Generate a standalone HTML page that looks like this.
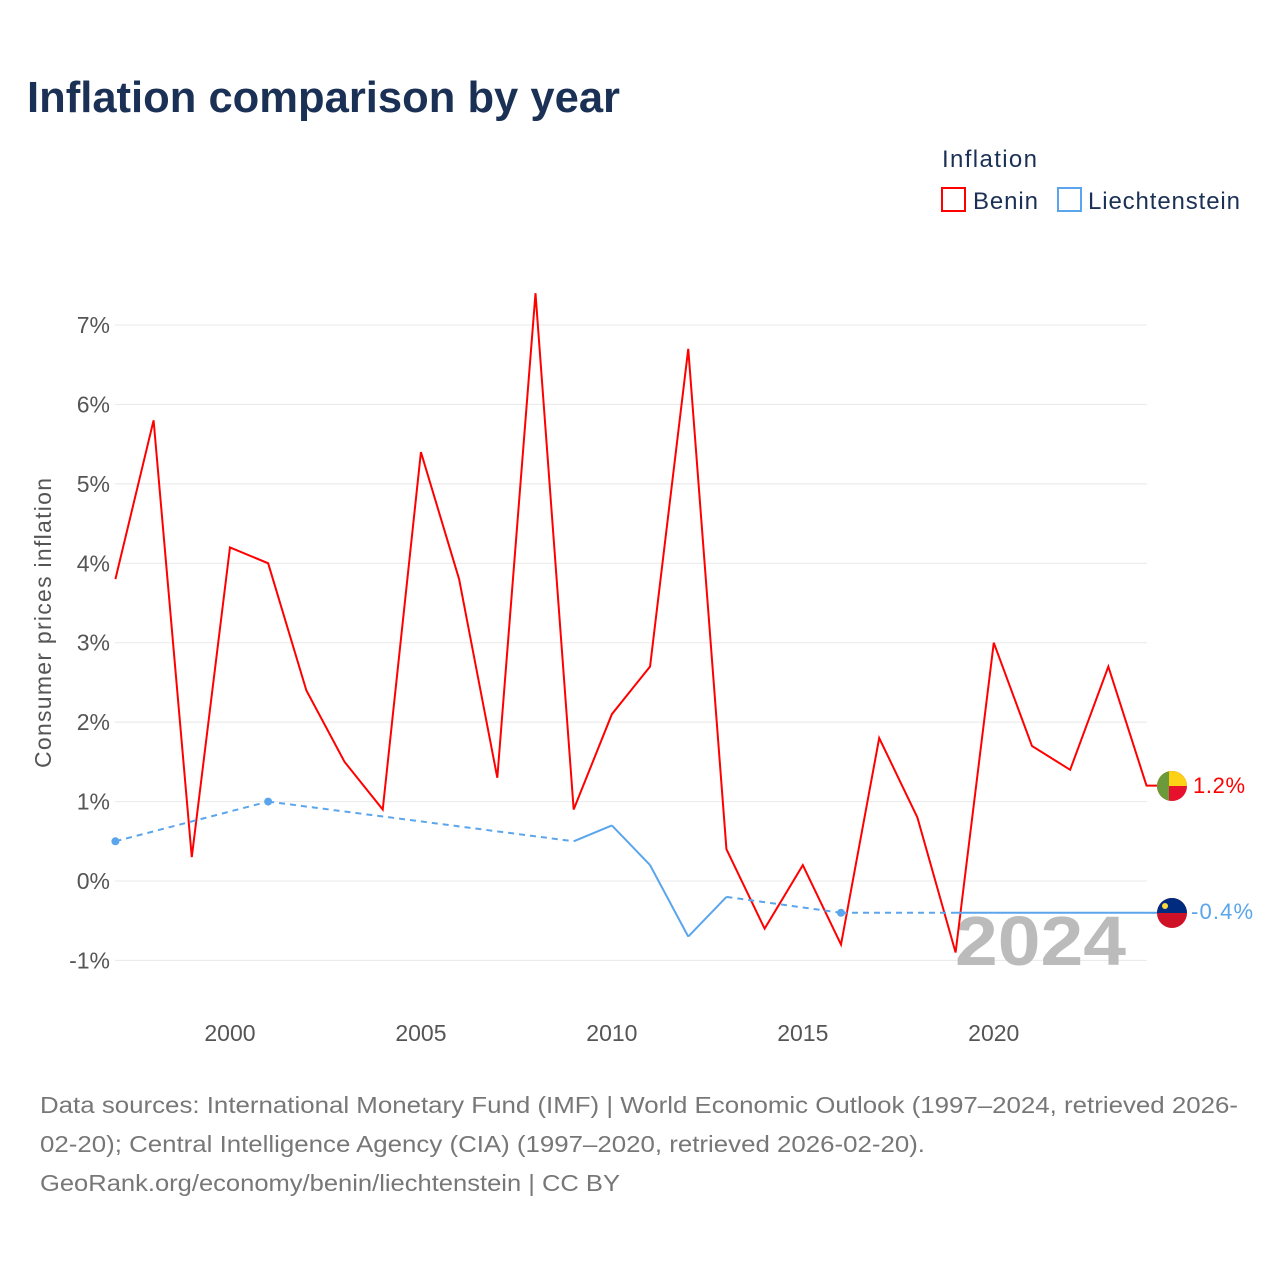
<!DOCTYPE html>
<html><head><meta charset="utf-8"><style>
body{margin:0;background:#fff;font-family:"Liberation Sans",sans-serif}
</style></head><body>
<svg width="1280" height="1280" viewBox="0 0 1280 1280" xmlns="http://www.w3.org/2000/svg">
<text x="27" y="112" font-size="44" font-weight="bold" fill="#1b3055" textLength="593" lengthAdjust="spacingAndGlyphs">Inflation comparison by year</text>
<text x="942" y="167" font-size="24" fill="#1b3055" textLength="95">Inflation</text>
<g><rect x="942" y="188" width="23" height="23" fill="none" stroke="#f00" stroke-width="2"/><text x="973" y="209" font-size="24" fill="#1b3055" textLength="65">Benin</text></g>
<g><rect x="1058" y="188" width="23" height="23" fill="none" stroke="#5aa5ec" stroke-width="2"/><text x="1088" y="209" font-size="24" fill="#1b3055" textLength="152">Liechtenstein</text></g>
<g id="grid"></g><g id="yt"></g><g id="xt"></g>
<text transform="translate(51,623) rotate(-90)" text-anchor="middle" font-size="23" fill="#555" textLength="290">Consumer prices inflation</text>
<text x="955" y="965" font-size="70" font-weight="bold" fill="#bbb" textLength="171" lengthAdjust="spacingAndGlyphs">2024</text>
<g id="series"></g>
<g><clipPath id="c1"><circle cx="1172" cy="786" r="15"/></clipPath><g clip-path="url(#c1)"><rect x="1157" y="771" width="30" height="30" fill="#e8112d"/><rect x="1157" y="771" width="30" height="15" fill="#fcd116"/><rect x="1157" y="771" width="12" height="30" fill="#6a9a3a"/></g></g>
<text x="1193" y="793" font-size="22" fill="#f00" textLength="52">1.2%</text>
<g><clipPath id="c2"><circle cx="1172" cy="913" r="15"/></clipPath><g clip-path="url(#c2)"><rect x="1157" y="898" width="30" height="30" fill="#ce1126"/><rect x="1157" y="898" width="30" height="15" fill="#002b7f"/><circle cx="1165" cy="906" r="3" fill="#ffd83d"/></g></g>
<text x="1191" y="919" font-size="22" fill="#5aa5ec" textLength="62">-0.4%</text>
<g font-size="23" fill="#777">
<text x="40" y="1113" textLength="1198" lengthAdjust="spacingAndGlyphs">Data sources: International Monetary Fund (IMF) | World Economic Outlook (1997–2024, retrieved 2026-</text>
<text x="40" y="1152" textLength="885" lengthAdjust="spacingAndGlyphs">02-20); Central Intelligence Agency (CIA) (1997–2020, retrieved 2026-02-20).</text>
<text x="40" y="1191" textLength="580" lengthAdjust="spacingAndGlyphs">GeoRank.org/economy/benin/liechtenstein | CC BY</text>
</g>
</svg>
<script>
const years=[1997,1998,1999,2000,2001,2002,2003,2004,2005,2006,2007,2008,2009,2010,2011,2012,2013,2014,2015,2016,2017,2018,2019,2020,2021,2022,2023,2024];
const benin=[3.8,5.8,0.3,4.2,4.0,2.4,1.5,0.9,5.4,3.8,1.3,7.4,0.9,2.1,2.7,6.7,0.4,-0.6,0.2,-0.8,1.8,0.8,-0.9,3.0,1.7,1.4,2.7,1.2];
const liech=[0.5,null,null,null,1.0,null,null,null,null,null,null,null,0.5,0.7,0.2,-0.7,-0.2,null,null,-0.4,null,null,-0.4,-0.4,-0.4,-0.4,-0.4,-0.4];
const yTicks=[-1,0,1,2,3,4,5,6,7];
const xTicks=[2000,2005,2010,2015,2020];
const NS="http://www.w3.org/2000/svg";
const X=y=>115.4+(y-1997)*38.19;
const Y=v=>881-v*79.43;
function mk(t,a,p){const e=document.createElementNS(NS,t);for(const k in a)e.setAttribute(k,a[k]);document.getElementById(p).appendChild(e);return e;}
yTicks.forEach(v=>{
 const l=mk('line',{x1:115,x2:1147,y1:Y(v),y2:Y(v),stroke:'#e8e8e8','stroke-width':1},'grid');
 
 
 const t=mk('text',{x:110,y:Y(v)+8,'text-anchor':'end','font-size':23,fill:'#555'},'yt');t.textContent=v+'%';
 
 
});
xTicks.forEach(v=>{
 const t=mk('text',{x:X(v),y:1041,'text-anchor':'middle','font-size':23,fill:'#555'},'xt');t.textContent=v;
 
 
});
const bp=mk('polyline',{points:years.map((y,i)=>X(y)+','+Y(benin[i])).join(' ')+' '+(X(2024)+12)+','+Y(1.2),fill:'none',stroke:'#f00','stroke-width':2},'series');


let prev=-1;
liech.forEach((v,i)=>{
 if(v===null)return;
 if(prev>=0){
  const seg=mk('line',{x1:X(years[prev]),y1:Y(liech[prev]),x2:X(years[i]),y2:Y(v),stroke:'#5aa5ec','stroke-width':2,'stroke-dasharray':(i-prev>1)?'6,5':'none'},'series');
  
  
 }
 const iso=(i===0||liech[i-1]===null)&&(i===liech.length-1||liech[i+1]===null);
 if(iso){const c=mk('circle',{cx:X(years[i]),cy:Y(v),r:4,fill:'#5aa5ec'},'series');
  
  }
 prev=i;
});
const ext=mk('line',{x1:X(2024),y1:Y(-0.4),x2:X(2024)+12,y2:Y(-0.4),stroke:'#5aa5ec','stroke-width':2},'series');


</script>
</body></html>
